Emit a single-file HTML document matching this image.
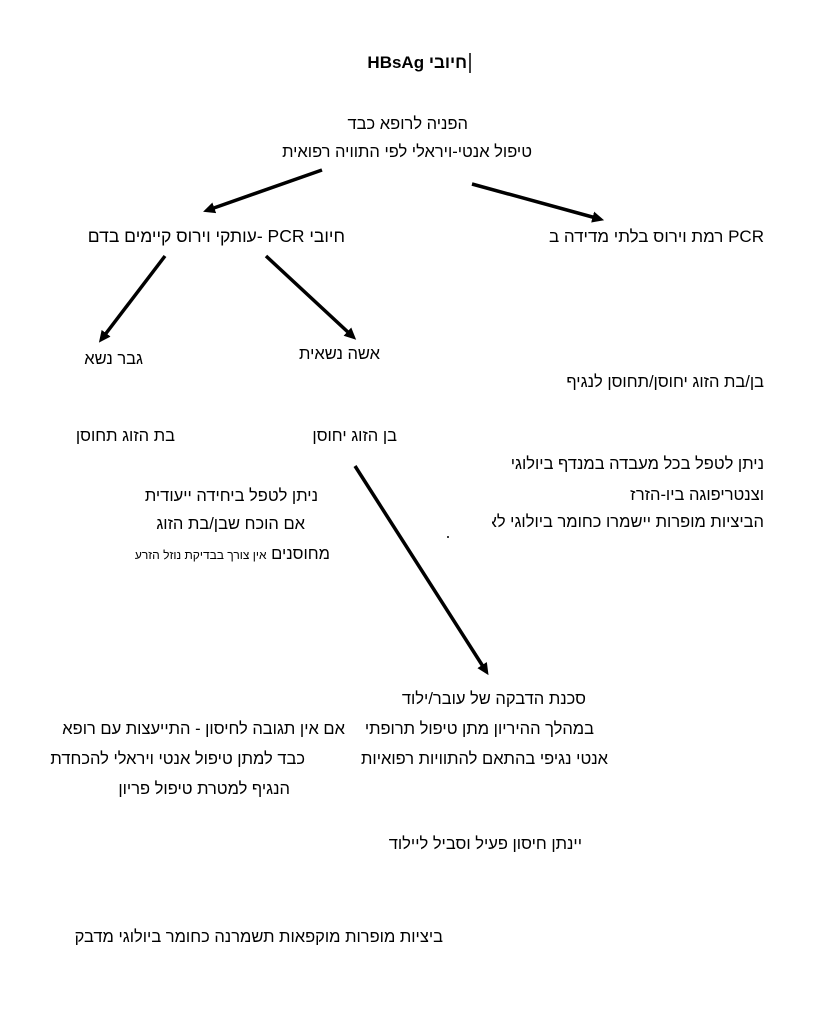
<!DOCTYPE html>
<html><head><meta charset="utf-8"><style>
html,body{margin:0;padding:0;background:#fff;}
body{width:822px;height:1018px;position:relative;overflow:hidden;font-family:"Liberation Sans","Noto Sans CJK SC",sans-serif;font-size:16.5px;color:#000;}
.t{position:absolute;direction:rtl;white-space:nowrap;line-height:19px;height:19px;}
.r{text-align:right;}
.c{overflow:hidden;}
</style></head><body>
<svg width="822" height="1018" style="position:absolute;left:0;top:0">
<defs><marker id="a" markerWidth="4" markerHeight="4" refX="1" refY="1.6" orient="auto" markerUnits="strokeWidth"><path d="M0,0 L3.4,1.6 L0,3.2 z" fill="#000"/></marker></defs>
<g stroke="#000" stroke-width="3.5" fill="none">
<line x1="322" y1="170" x2="211" y2="209" marker-end="url(#a)"/>
<line x1="472" y1="184" x2="596" y2="218" marker-end="url(#a)"/>
<line x1="165" y1="256" x2="104" y2="336" marker-end="url(#a)"/>
<line x1="266" y1="256" x2="350" y2="334" marker-end="url(#a)"/>
<line x1="355" y1="466" x2="484" y2="668" marker-end="url(#a)"/>
</g>
<line x1="470" y1="53" x2="470" y2="73" stroke="#000" stroke-width="1.5"/>
<circle cx="448" cy="537" r="1" fill="#000"/>
</svg>

<div class="t" style="left:300px;width:167px;top:53px;font-weight:bold;font-size:17px;text-align:right">חיובי HBsAg</div>
<div class="t r" style="left:200px;width:268px;top:115px">הפניה לרופא כבד</div>
<div class="t r" style="left:200px;width:332px;top:143px">טיפול אנטי-ויראלי לפי התוויה רפואית</div>

<div class="t r" style="left:40px;width:305px;top:227px;font-size:17.5px">חיובי PCR -עותקי וירוס קיימים בדם</div>
<div class="t r" style="left:400px;width:364px;top:227px;font-size:17px">PCR רמת וירוס בלתי מדידה ב</div>

<div class="t r" style="left:40px;width:103px;top:350px">גבר נשא</div>
<div class="t r" style="left:250px;width:130px;top:345px">אשה נשאית</div>
<div class="t r" style="left:450px;width:314px;top:373px">בן/בת הזוג יחוסן/תחוסן לנגיף</div>

<div class="t r c" style="left:76px;width:99px;top:427px">בת הזוג תחוסן</div>
<div class="t r c" style="left:305px;width:92px;top:427px">בן הזוג יחוסן</div>

<div class="t r c" style="left:510px;width:254px;top:455px">ניתן לטפל בכל מעבדה במנדף ביולוגי</div>
<div class="t r" style="left:450px;width:314px;top:486px">וצנטריפוגה ביו-הזרז</div>
<div class="t r c" style="left:492px;width:272px;top:513px">הביציות מופרות יישמרו כחומר ביולוגי לא</div>

<div class="t r" style="left:100px;width:218px;top:487px">ניתן לטפל ביחידה ייעודית</div>
<div class="t r" style="left:100px;width:205px;top:515px">אם הוכח שבן/בת הזוג</div>
<div class="t r" style="left:100px;width:230px;top:545px">מחוסנים <span style="font-size:12px">אין צורך בבדיקת נוזל הזרע</span></div>

<div class="t r" style="left:350px;width:236px;top:690px">סכנת הדבקה של עובר/ילוד</div>
<div class="t r" style="left:350px;width:244px;top:720px">במהלך ההיריון מתן טיפול תרופתי</div>
<div class="t r" style="left:350px;width:258px;top:750px">אנטי נגיפי בהתאם להתוויות רפואיות</div>

<div class="t r" style="left:40px;width:305px;top:720px">אם אין תגובה לחיסון - התייעצות עם רופא</div>
<div class="t r" style="left:40px;width:265px;top:750px">כבד למתן טיפול אנטי ויראלי להכחדת</div>
<div class="t r" style="left:40px;width:250px;top:780px">הנגיף למטרת טיפול פריון</div>

<div class="t r" style="left:350px;width:232px;top:835px">יינתן חיסון פעיל וסביל ליילוד</div>
<div class="t r" style="left:40px;width:403px;top:928px">ביציות מופרות מוקפאות תשמרנה כחומר ביולוגי מדבק</div>
</body></html>
